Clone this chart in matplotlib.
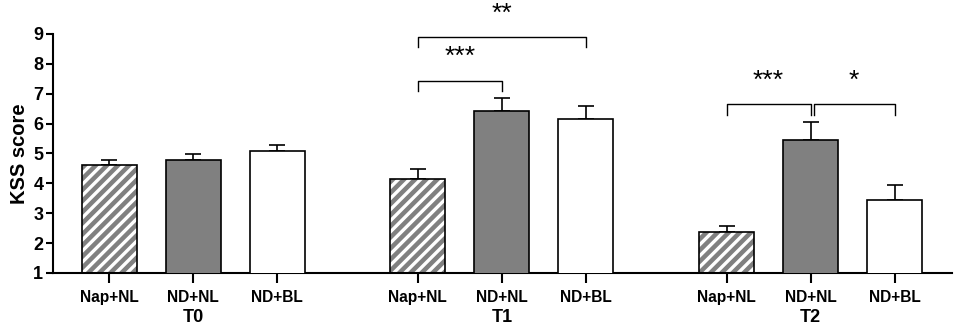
import matplotlib.pyplot as plt
import numpy as np

plt.rcParams['font.family'] = 'Liberation Sans'
plt.rcParams['hatch.linewidth'] = 2.4

groups = ['T0', 'T1', 'T2']
conditions = ['Nap+NL', 'ND+NL', 'ND+BL']

nap_mean = [4.62, 4.14, 2.37]
nap_sem = [0.16, 0.35, 0.20]
ndnl_mean = [4.79, 6.42, 5.44]
ndnl_sem = [0.19, 0.43, 0.62]
ndbl_mean = [5.08, 6.14, 3.44]
ndbl_sem = [0.22, 0.44, 0.51]

# significance brackets: (group, cond_a, cond_b, label)
sig = [(1, 0, 1, '***'), (1, 0, 2, '**'), (2, 0, 1, '***'), (2, 1, 2, '*')]

fig = plt.figure(figsize=(9.57, 3.28), dpi=100)
ax = fig.add_axes([0.0554, 0.1677, 0.9391, 0.7287])

gap = 3.675
width = 0.655
pos = np.array([[g * gap + i for i in range(3)] for g in range(3)])

series = [(nap_mean, nap_sem), (ndnl_mean, ndnl_sem), (ndbl_mean, ndbl_sem)]
for i, (m, e) in enumerate(series):
    x = pos[:, i]
    if i == 0:
        ax.bar(x, m, width, color='#808080', edgecolor='white', hatch='///', linewidth=0, zorder=2)
        ax.bar(x, m, width, fill=False, edgecolor='black', linewidth=1.2, zorder=3)
    elif i == 1:
        ax.bar(x, m, width, color='#808080', edgecolor='black', linewidth=1.2, zorder=3)
    else:
        ax.bar(x, m, width, color='white', edgecolor='black', linewidth=1.2, zorder=3)
    ax.errorbar(x, m, yerr=[np.zeros(3), e], fmt='none', ecolor='black',
                elinewidth=1.2, capsize=5.5, capthick=1.2, zorder=1)

# brackets
heights = {(1, 0, 1): (7.09, 7.43, 8.22), (1, 0, 2): (8.57, 8.90, 9.67),
           (2, 0, 1): (6.28, 6.65, 7.42), (2, 1, 2): (6.28, 6.65, 7.42)}
for g, a, b, lab in sig:
    lo, hi, ty = heights[(g, a, b)]
    xa, xb = pos[g, a], pos[g, b]
    if g == 2 and a == 1:
        xa += 0.035
    ax.plot([xa, xa, xb, xb], [lo, hi, hi, lo], color='black', lw=1.0,
            clip_on=False, zorder=4)
    ax.text((xa + xb) / 2, ty, lab, ha='center', va='center', fontsize=19,
            clip_on=False)

ax.set_xlim(-0.667, 10.03)
ax.set_ylim(1, 9)
ax.set_yticks(range(1, 10))
ax.set_xticks(pos.flatten())
ax.set_xticklabels(conditions * 3, fontsize=11.2, fontweight='bold')
for t in ax.get_yticklabels():
    t.set_fontsize(13)
    t.set_fontweight('bold')
ax.set_ylabel('KSS score', fontsize=14.5, fontweight='bold', labelpad=3)

for g in range(3):
    ax.annotate(groups[g], xy=(pos[g, 1], 0), xycoords=('data', 'axes fraction'),
                xytext=(0, -32), textcoords='offset points', ha='center',
                va='center', fontsize=13, fontweight='bold')

for s in ['top', 'right']:
    ax.spines[s].set_visible(False)
for s in ['left', 'bottom']:
    ax.spines[s].set_linewidth(1.5)
ax.tick_params(axis='y', length=5, width=1.5, pad=2)
ax.tick_params(axis='x', length=7, width=1.5, pad=5)

fig.savefig('out.png', dpi=100)
